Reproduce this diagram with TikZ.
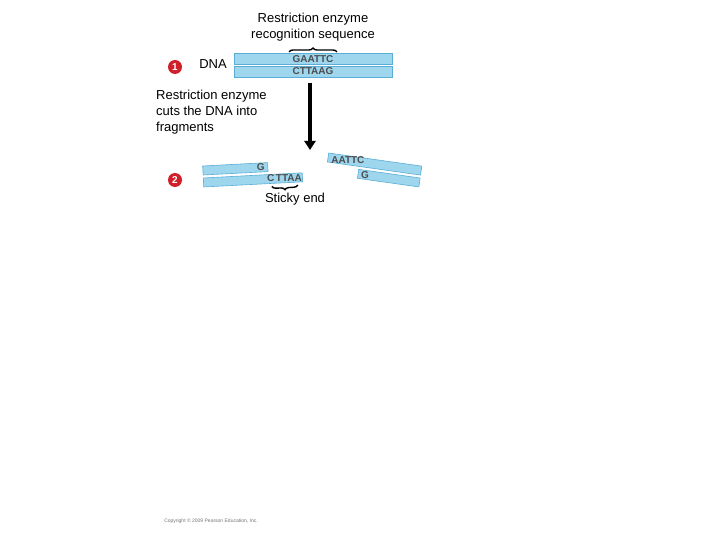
\documentclass[tikz,border=0pt]{standalone}
\usepackage{fontspec}
\setmainfont{Liberation Sans}
\usetikzlibrary{decorations.pathreplacing,arrows.meta}
\definecolor{strand}{HTML}{9ED6EE}
\definecolor{strandedge}{HTML}{5AAED6}
\definecolor{numred}{HTML}{D0202A}
\tikzset{
  strandbox/.style={fill=strand,draw=strandedge,line width=0.6pt},
  base/.style={font=\fontsize{10}{11}\selectfont\bfseries,text=black!70,inner sep=0pt},
  lbl/.style={font=\fontsize{13}{16}\selectfont,inner sep=0pt},
  num/.style={circle,fill=numred,text=white,font=\fontsize{10}{10}\selectfont\bfseries,minimum size=14pt,inner sep=0pt},
  brc/.style={decorate,decoration={brace,amplitude=4pt},line width=1.4pt}
}
\begin{document}
\begin{tikzpicture}[x=1pt,y=-1pt]
\useasboundingbox (0,0) rectangle (720,540);
\node[lbl,align=center] (title) at (313,27) {Restriction enzyme\\recognition sequence};
\draw[strandbox] (234,53) rectangle (392,64);
\draw[strandbox] (234,66) rectangle (392,77);
\node[base] (s1) at (313,59) {GAATTC};
\node[base] (s2) at (313,71.5) {CTTAAG};
\draw[brc] (289,52) -- (337,52);
\node[num] (n1) at (175,67) {1};
\node[lbl] (dna) at (213,64) {DNA};
\node[lbl,align=left,anchor=north west] (cut) at (156,90) {Restriction enzyme\\cuts the DNA into\\fragments};
\coordinate (a1) at (310,83);
\coordinate (a2) at (310,150);
\draw[line width=3.5pt,-{Triangle[length=9pt,width=11pt]}] (a1) -- (a2);
\begin{scope}[rotate around={3:(203,172)}]
\draw[strandbox] (203,166) rectangle (268,175);
\draw[strandbox] (203,178) rectangle (302,187);
\node[base] (g1) at (261,170) {G};
\node[base] (c1) at (284,182.5) {C\,TTAA};
\draw[brc] (297,190) -- (271,190);
\end{scope}
\begin{scope}[rotate around={-8:(328,158)}]
\draw[strandbox] (328,153) rectangle (422,162);
\draw[strandbox] (360,165) rectangle (422,174);
\node[base] (g2) at (348,157.5) {AATTC};
\node[base] (g3) at (367,169.5) {G};
\end{scope}
\node[num] (n2) at (175,180) {2};
\node[lbl] (sticky) at (295,199) {Sticky end};
\node[font=\fontsize{5}{6}\selectfont,text=black!55,inner sep=0pt] (copy) at (211,521) {Copyright \copyright{} 2009 Pearson Education, Inc.};
\end{tikzpicture}
\end{document}
